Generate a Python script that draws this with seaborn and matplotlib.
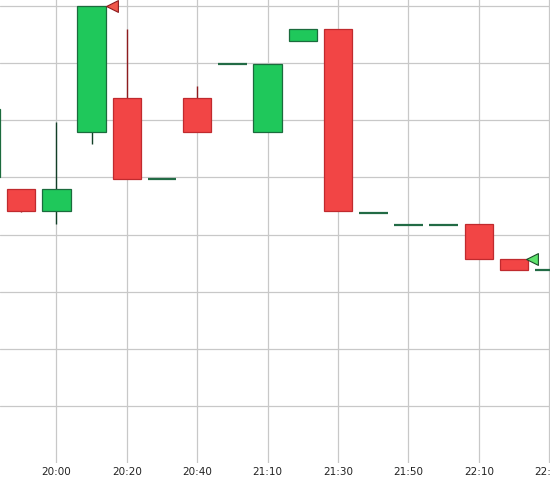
import numpy as np
import pandas as pd
import seaborn as sns
import matplotlib
matplotlib.use("Agg")
import matplotlib.pyplot as plt

# | Data |--------------------------------------------------------------------------------------------------------------|
times = ["19:40", "19:50", "20:00", "20:10", "20:20", "20:30", "20:40", "20:50", "21:10",
         "21:20", "21:30", "21:40", "21:50", "22:00", "22:10", "22:20", "22:30"]
opens = [5.00, 4.79, 4.41, 5.80, 6.39, 4.97, 6.38, 6.98, 5.80, 7.39, 7.59, 4.38, 4.17, 4.17, 4.18, 3.58, 3.38]
highs = [6.19, 4.79, 5.97, 7.99, 7.59, 4.97, 6.59, 6.98, 6.99, 7.59, 7.59, 4.38, 4.17, 4.17, 4.18, 3.58, 3.38]
lows = [5.00, 4.40, 4.18, 5.59, 4.98, 4.97, 5.79, 6.98, 5.80, 7.39, 4.41, 4.38, 4.17, 4.17, 3.58, 3.38, 3.38]
closes = [6.19, 4.41, 4.79, 7.99, 4.98, 4.97, 5.79, 6.98, 6.99, 7.59, 4.41, 4.38, 4.17, 4.17, 3.58, 3.38, 3.38]
tick_labels = times[::2]
# |--------------------------------------------------------------------------------------------------------------------|

df = pd.DataFrame({"time": times, "open": opens, "high": highs, "low": lows, "close": closes})
df["pos"] = np.arange(len(df))

GREEN, GREEN_EDGE, GREEN_WICK = "#1fc85b", "#1b6b3d", "#123f27"
RED, RED_EDGE, RED_WICK = "#f24545", "#c02a2e", "#8e1c1f"
FLAT = "#226b45"
WIDTH = 0.81

sns.set_theme(style="whitegrid", rc={"grid.color": "#c8c8c8", "grid.linewidth": 0.9})
plt.rcParams["font.family"] = ["DejaVu Sans"]

fig = plt.figure(figsize=(5.5, 4.85), dpi=100)
ax = fig.add_axes([0, 0.0433, 1, 0.9567])

for _, r in df.iterrows():
    up = r["close"] > r["open"]
    flat = r["close"] == r["open"]
    if flat:
        ax.hlines(r["close"], r["pos"] - WIDTH / 2, r["pos"] + WIDTH / 2, color=FLAT, lw=1.6, zorder=3)
        continue
    lo, hi = min(r["open"], r["close"]), max(r["open"], r["close"])
    wick = GREEN_WICK if up else RED_WICK
    if r["high"] > hi:
        ax.vlines(r["pos"], hi, r["high"], color=wick, lw=1.0, zorder=2)
    if r["low"] < lo:
        ax.vlines(r["pos"], r["low"], lo, color=wick, lw=1.0, zorder=2)
    ax.bar(r["pos"], hi - lo, bottom=lo, width=WIDTH,
           color=GREEN if up else RED, edgecolor=GREEN_EDGE if up else RED_EDGE, lw=0.9, zorder=3)

# high / last markers
sns.scatterplot(x=[3.57], y=[7.99], marker="<", s=72, color="#f0574b", edgecolor="#8e1c1f",
                linewidth=0.8, ax=ax, zorder=5, clip_on=False)
sns.scatterplot(x=[15.52], y=[3.58], marker="<", s=72, color="#5de36c", edgecolor="#1b4d2a",
                linewidth=0.8, ax=ax, zorder=5, clip_on=False)

ax.set_xticks(df["pos"][::2])
ax.set_xticklabels(tick_labels, fontsize=7.5, color="#222222")
ax.set_yticks(np.arange(1, 9))
ax.set_yticklabels([])
ax.set_xlim(0.398, 16.02)
ax.set_ylim(0.01, 8.117)
ax.tick_params(axis="x", length=0, pad=2.5)
ax.tick_params(axis="y", length=0)
ax.grid(True, axis="both")
for s in ax.spines.values():
    s.set_visible(False)
# label of the first, mostly hidden slot
ax.text(0, -0.012, "19:40", transform=ax.get_xaxis_transform(), ha="center", va="top",
        fontsize=7.5, color="#3d7fc4", clip_on=False)

fig.savefig("out.png", dpi=100)
